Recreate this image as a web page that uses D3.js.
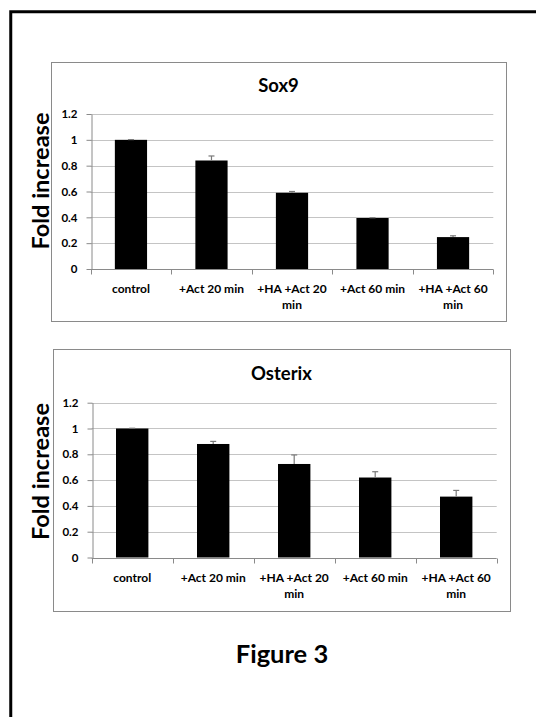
<!DOCTYPE html>
<html>
<head>
<meta charset="utf-8">
<script src="https://cdn.jsdelivr.net/npm/d3@7"></script>
<style>
  html, body { margin: 0; padding: 0; background: #fff; }
  svg { display: block; }
  text { font-family: Lato, "Open Sans", sans-serif; font-weight: bold; fill: #000; }
</style>
</head>
<body>
<svg id="fig" width="536" height="717"></svg>
<script>
// ---- data ----
const categories = ["control", "+Act 20 min", "+HA +Act 20 min", "+Act 60 min", "+HA +Act 60 min"];
const sox9Values = [1.0, 0.84, 0.59, 0.395, 0.247];
const sox9Errors = [0.002, 0.035, 0.01, 0.002, 0.01];
const osterixValues = [1.0, 0.88, 0.725, 0.62, 0.472];
const osterixErrors = [0.002, 0.02, 0.07, 0.045, 0.048];
const yTicks = [0, 0.2, 0.4, 0.6, 0.8, 1, 1.2];
const yTickLabels = ["0", "0.2", "0.4", "0.6", "0.8", "1", "1.2"];
const chartTitles = ["Sox9", "Osterix"];
const yAxisTitle = "Fold increase";
const figureTitle = "Figure 3";

const svg = d3.select("#fig");

// outer black frame
svg.append("rect")
  .attr("x", 10.75).attr("y", 11.75)
  .attr("width", 640).attr("height", 800)
  .attr("fill", "none").attr("stroke", "#000").attr("stroke-width", 3);

function wrap(textSel, width) {
  textSel.each(function() {
    const text = d3.select(this);
    const words = text.text().split(/\s+/);
    const x = text.attr("x") || 0;
    const y = text.attr("y");
    text.text(null);
    let line = [];
    let lineNo = 0;
    let tspan = text.append("tspan").attr("x", x).attr("y", y).attr("dy", "0em");
    for (const w of words) {
      line.push(w);
      tspan.text(line.join(" "));
      if (tspan.node().getComputedTextLength() > width && line.length > 1) {
        line.pop();
        tspan.text(line.join(" "));
        line = [w];
        lineNo++;
        tspan = text.append("tspan").attr("x", x).attr("y", y)
          .attr("dy", (lineNo * 1.38) + "em").text(w);
      }
    }
  });
}

function drawChart(cfg, title, values, errors) {
  const g = svg.append("g");
  // chart box
  g.append("rect")
    .attr("x", cfg.box[0] + 0.5).attr("y", cfg.box[1] + 0.5)
    .attr("width", cfg.box[2]).attr("height", cfg.box[3])
    .attr("fill", "#fff").attr("stroke", "#8a8a8a").attr("stroke-width", 1);

  const x = d3.scaleBand().domain(categories)
    .range([cfg.left, cfg.right]).paddingInner(0.6).paddingOuter(0.3);
  const y = d3.scaleLinear().domain([0, 1.2]).range([cfg.bottom, cfg.top]);

  // gridlines
  g.append("g").selectAll("line").data(yTicks.filter(d => d > 0)).join("line")
    .attr("x1", cfg.left).attr("x2", cfg.right)
    .attr("y1", d => Math.round(y(d)) + 0.5).attr("y2", d => Math.round(y(d)) + 0.5)
    .attr("stroke", "#c4c4c4").attr("stroke-width", 1);

  // y axis
  const yAxis = g.append("g")
    .attr("transform", `translate(${Math.round(cfg.left) + 0.5},0)`)
    .call(d3.axisLeft(y).tickValues(yTicks)
      .tickFormat((d, i) => yTickLabels[i]).tickSize(5).tickPadding(9).tickSizeOuter(0));
  yAxis.select(".domain").attr("stroke", "#8a8a8a");
  yAxis.selectAll(".tick line").attr("stroke", "#8a8a8a");
  yAxis.selectAll(".tick text")
    .style("font-family", "Lato, sans-serif").style("font-weight", "bold")
    .style("font-size", "11.5px").attr("fill", "#000");

  // x axis (ticks at band boundaries)
  const xAxisG = g.append("g").attr("transform", `translate(0,${Math.round(cfg.bottom) + 0.5})`);
  xAxisG.append("line").attr("x1", cfg.left).attr("x2", cfg.right)
    .attr("stroke", "#8a8a8a");
  const boundaries = categories.map(c => x(c) - x.step() * x.paddingInner() / 2)
    .concat([cfg.right]);
  xAxisG.selectAll("line.tk").data(boundaries).join("line").attr("class", "tk")
    .attr("x1", d => Math.round(d) + 0.5).attr("x2", d => Math.round(d) + 0.5)
    .attr("y1", 0).attr("y2", 5).attr("stroke", "#8a8a8a");
  xAxisG.selectAll("text.cat").data(categories).join("text").attr("class", "cat")
    .attr("x", d => x(d) + x.bandwidth() / 2)
    .attr("y", 23)
    .attr("text-anchor", "middle")
    .style("font-size", "12px")
    .text(d => d)
    .call(wrap, x.step());

  // bars
  g.append("g").selectAll("rect").data(values).join("rect")
    .attr("x", (d, i) => x(categories[i]))
    .attr("y", d => y(d))
    .attr("width", x.bandwidth())
    .attr("height", d => y(0) - y(d))
    .attr("fill", "#000");

  // error bars (plus direction)
  const eg = g.append("g").attr("stroke", "#7a7a7a").attr("stroke-width", 1.2);
  values.forEach((v, i) => {
    const cx = x(categories[i]) + x.bandwidth() / 2;
    eg.append("line").attr("x1", cx).attr("x2", cx)
      .attr("y1", y(v)).attr("y2", y(v + errors[i]));
    eg.append("line").attr("x1", cx - 3).attr("x2", cx + 3)
      .attr("y1", y(v + errors[i])).attr("y2", y(v + errors[i]));
  });

  // chart title
  g.append("text")
    .attr("x", cfg.box[0] + cfg.box[2] / 2).attr("y", cfg.titleY)
    .attr("text-anchor", "middle").style("font-size", "18.5px")
    .text(title);

  // y axis title
  g.append("text")
    .attr("transform", `translate(${cfg.yTitleX},${cfg.yTitleY}) rotate(-90)`)
    .attr("text-anchor", "middle").style("font-size", "23.5px")
    .text(yAxisTitle);
}

drawChart({ box: [51, 62, 455, 259], left: 90.7, right: 493.3, top: 114, bottom: 269,
            titleY: 92, yTitleX: 49, yTitleY: 181 }, chartTitles[0], sox9Values, sox9Errors);
drawChart({ box: [53, 349, 457, 262], left: 91.7, right: 496.7, top: 402.7, bottom: 557.5,
            titleY: 380, yTitleX: 48.5, yTitleY: 471.5 }, chartTitles[1], osterixValues, osterixErrors);

svg.append("text")
  .attr("x", 282).attr("y", 663)
  .attr("text-anchor", "middle").style("font-size", "25.5px")
  .text(figureTitle);
</script>
</body>
</html>
